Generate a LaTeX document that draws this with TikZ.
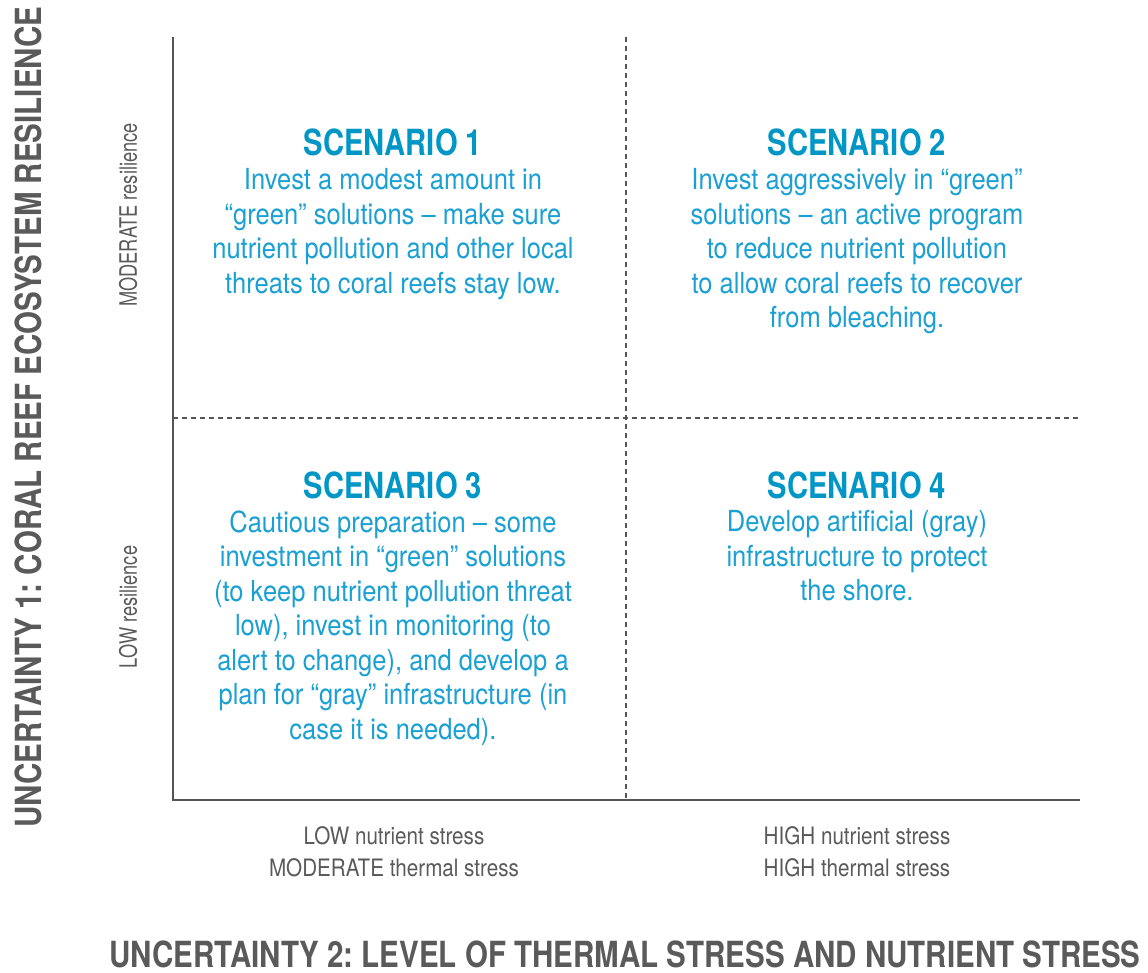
\documentclass[tikz,border=0pt]{standalone}
\usepackage{fontspec}
\setmainfont{TeX Gyre Heros}
\newfontfamily\bodyf[FakeStretch=0.88]{TeX Gyre Heros}
\newfontfamily\botf[FakeStretch=0.86]{TeX Gyre Heros}
\newfontfamily\sidef[FakeStretch=0.76]{TeX Gyre Heros}
\newfontfamily\titlef[FakeStretch=0.81]{TeX Gyre Heros}
\newfontfamily\axf[FakeStretch=0.82]{TeX Gyre Heros}
\definecolor{sblue}{HTML}{0096C6}
\definecolor{bblue}{HTML}{1AA0D2}
\definecolor{axgray}{HTML}{555555}
\definecolor{lblgray}{HTML}{5A5A5A}
\tikzset{
  scentitle/.style={text=sblue, font=\titlef\bfseries\fontsize{36}{40}\selectfont, anchor=base},
  scenbody/.style={text=bblue, font=\bodyf\fontsize{29}{34.5}\selectfont, align=center, anchor=north},
  sidelbl/.style={text=lblgray, font=\sidef\fontsize{24}{32}\selectfont, align=center},
  botlbl/.style={text=lblgray, font=\botf\fontsize{24}{32}\selectfont, align=center},
  axtitle/.style={text=lblgray, font=\axf\bfseries\fontsize{36}{40}\selectfont, inner sep=0pt},
  axline/.style={draw=axgray, line width=2pt},
  divline/.style={draw=axgray, line width=1.5pt, dash pattern=on 5pt off 4pt}
}
\begin{document}
\frenchspacing
\begin{tikzpicture}[x=1pt,y=-1pt]
\useasboundingbox (0,0) rectangle (1148,973);
\coordinate (tl) at (173,37);
\coordinate (bl) at (173,800);
\coordinate (br) at (1080,800);
\coordinate (mt) at (626,37);
\coordinate (mb) at (626,800);
\coordinate (ml) at (173,418);
\coordinate (mr) at (1080,418);
\draw[divline] (mt) -- (mb);
\draw[divline] (ml) -- (mr);
\draw[axline] (tl) -- (bl) -- (br);

\node[scentitle] (t1) at (393,156) {SCENARIO 1};
\node[scenbody] (b1) at (393,165) {Invest a modest amount in\\“green” solutions – make sure\\nutrient pollution and other local\\threats to coral reefs stay low.};
\node[scentitle] (t2) at (857,156) {SCENARIO 2};
\node[scenbody] (b2) at (857,165) {Invest aggressively in “green”\\solutions – an active program\\to reduce nutrient pollution\\to allow coral reefs to recover\\from bleaching.};
\node[scentitle] (t3) at (393,498) {SCENARIO 3};
\node[scenbody] (b3) at (393,507) {Cautious preparation – some\\investment in “green” solutions\\(to keep nutrient pollution threat\\low), invest in monitoring (to\\alert to change), and develop a\\plan for “gray” infrastructure (in\\case it is needed).};
\node[scentitle] (t4) at (857,498) {SCENARIO 4};
\node[scenbody] (b4) at (857,507) {Develop artificial (gray)\\infrastructure to protect\\the shore.};

\node[sidelbl, rotate=90] (m) at (128,215) {MODERATE resilience};
\node[sidelbl, rotate=90] (l) at (128,607) {LOW resilience};
\node[botlbl] (lx) at (394,852) {LOW nutrient stress\\MODERATE thermal stress};
\node[botlbl] (hx) at (857,852) {HIGH nutrient stress\\HIGH thermal stress};

\node[axtitle, rotate=90] (u1) at (28,417) {UNCERTAINTY 1: CORAL REEF ECOSYSTEM RESILIENCE};
\node[axtitle] (u2) at (625,954) {UNCERTAINTY 2: LEVEL OF THERMAL STRESS AND NUTRIENT STRESS};
\end{tikzpicture}
\end{document}
